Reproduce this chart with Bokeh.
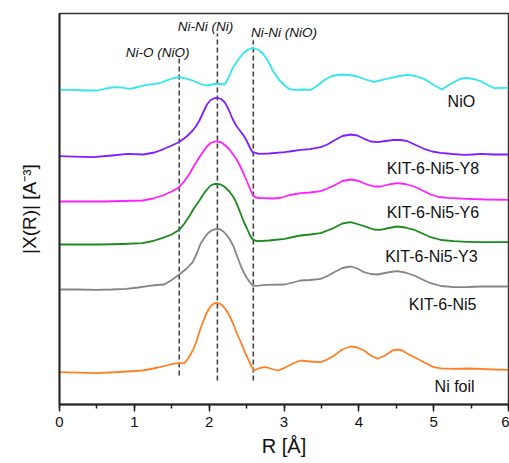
from bokeh.plotting import figure
from bokeh.models import Range1d, SingleIntervalTicker, FixedTicker, Label
from bokeh.embed import file_html
from bokeh.resources import INLINE

# ---------------- data (R in Å, |X(R)| with vertical offsets, arbitrary units) ----------------
nio_R = [0, 0.2, 0.35, 0.51, 0.62, 0.74, 0.84, 0.94, 1.05, 1.16, 1.29, 1.38, 1.45, 1.53, 1.60,
         1.68, 1.78, 1.88, 1.96, 2.03, 2.09, 2.16, 2.21, 2.26, 2.32, 2.39, 2.45, 2.52, 2.58,
         2.65, 2.72, 2.79, 2.85, 2.93, 3.01, 3.07, 3.13, 3.25, 3.36, 3.45, 3.53, 3.64, 3.76,
         3.87, 3.98, 4.09, 4.20, 4.31, 4.43, 4.54, 4.65, 4.76, 4.87, 4.99, 5.11, 5.19, 5.27,
         5.35, 5.43, 5.53, 5.63, 5.72, 5.81, 5.90, 6.0]
nio_y = [3.147, 3.147, 3.14, 3.14, 3.16, 3.173, 3.168, 3.157, 3.175, 3.197, 3.207, 3.225, 3.247,
         3.265, 3.273, 3.262, 3.24, 3.205, 3.19, 3.20, 3.207, 3.205, 3.20, 3.27, 3.373, 3.45,
         3.507, 3.55, 3.567, 3.55, 3.507, 3.43, 3.34, 3.25, 3.19, 3.155, 3.147, 3.15, 3.147,
         3.19, 3.24, 3.285, 3.30, 3.295, 3.28, 3.25, 3.227, 3.245, 3.267, 3.285, 3.297, 3.285,
         3.257, 3.20, 3.15, 3.19, 3.223, 3.255, 3.267, 3.255, 3.233, 3.195, 3.163, 3.167, 3.167]

y8_R = [0, 0.2, 0.45, 0.7, 0.91, 1.12, 1.27, 1.40, 1.50, 1.60, 1.70, 1.78, 1.83, 1.87, 1.92,
        1.97, 2.02, 2.07, 2.11, 2.16, 2.21, 2.26, 2.31, 2.36, 2.41, 2.46, 2.50, 2.55, 2.58,
        2.62, 2.67, 2.80, 3.01, 3.12, 3.22, 3.35, 3.49, 3.58, 3.67, 3.78, 3.89, 3.98, 4.07,
        4.16, 4.25, 4.36, 4.47, 4.56, 4.65, 4.76, 4.87, 4.98, 5.09, 5.25, 5.41, 5.52, 5.63,
        5.80, 6.0]
y8_y = [2.483, 2.478, 2.473, 2.49, 2.507, 2.50, 2.52, 2.557, 2.59, 2.625, 2.68, 2.74, 2.79,
        2.84, 2.92, 3.00, 3.045, 3.063, 3.067, 3.055, 3.02, 2.95, 2.86, 2.79, 2.74, 2.69, 2.64,
        2.56, 2.523, 2.515, 2.507, 2.51, 2.523, 2.535, 2.547, 2.553, 2.573, 2.60, 2.64, 2.685,
        2.70, 2.69, 2.657, 2.63, 2.623, 2.635, 2.647, 2.645, 2.633, 2.595, 2.557, 2.53, 2.517,
        2.505, 2.497, 2.50, 2.507, 2.50, 2.50]

y6_R = [0, 0.3, 0.58, 0.85, 1.11, 1.25, 1.38, 1.50, 1.60, 1.67, 1.74, 1.80, 1.87, 1.92, 1.97,
        2.02, 2.07, 2.11, 2.16, 2.21, 2.27, 2.32, 2.36, 2.41, 2.46, 2.50, 2.55, 2.58, 2.61,
        2.66, 2.72, 2.85, 2.95, 3.08, 3.22, 3.35, 3.49, 3.58, 3.67, 3.78, 3.89, 4.00, 4.11,
        4.20, 4.29, 4.40, 4.51, 4.62, 4.74, 4.85, 4.96, 5.07, 5.18, 5.45, 5.70, 6.0]
y6_y = [2.03, 2.03, 2.03, 2.035, 2.04, 2.06, 2.09, 2.13, 2.173, 2.235, 2.31, 2.39, 2.473, 2.53,
        2.58, 2.615, 2.628, 2.63, 2.622, 2.595, 2.55, 2.50, 2.46, 2.39, 2.31, 2.24, 2.15, 2.10,
        2.073, 2.065, 2.063, 2.06, 2.065, 2.095, 2.113, 2.12, 2.133, 2.16, 2.19, 2.235, 2.25,
        2.235, 2.20, 2.18, 2.18, 2.20, 2.213, 2.205, 2.18, 2.14, 2.10, 2.075, 2.067, 2.057,
        2.05, 2.047]

y3_R = [0, 0.3, 0.53, 0.85, 1.11, 1.25, 1.38, 1.50, 1.60, 1.67, 1.74, 1.80, 1.87, 1.92, 1.97,
        2.02, 2.07, 2.11, 2.16, 2.21, 2.27, 2.32, 2.36, 2.41, 2.46, 2.50, 2.54, 2.57, 2.61,
        2.65, 2.80, 3.01, 3.12, 3.22, 3.35, 3.49, 3.58, 3.67, 3.78, 3.89, 4.00, 4.11, 4.20,
        4.29, 4.40, 4.51, 4.62, 4.74, 4.85, 4.96, 5.10, 5.27, 5.45, 5.63, 6.0]
y3_y = [1.60, 1.60, 1.60, 1.605, 1.613, 1.635, 1.667, 1.70, 1.747, 1.81, 1.89, 1.965, 2.04,
        2.10, 2.15, 2.19, 2.205, 2.207, 2.198, 2.175, 2.13, 2.08, 2.023, 1.93, 1.83, 1.77, 1.70,
        1.66, 1.64, 1.633, 1.64, 1.657, 1.675, 1.69, 1.70, 1.713, 1.74, 1.767, 1.81, 1.823,
        1.80, 1.773, 1.75, 1.747, 1.765, 1.78, 1.77, 1.747, 1.71, 1.673, 1.645, 1.633, 1.627,
        1.623, 1.623]

ni5_R = [0, 0.25, 0.49, 0.70, 0.89, 1.05, 1.20, 1.30, 1.40, 1.50, 1.60, 1.70, 1.78, 1.84,
         1.885, 1.93, 1.98, 2.03, 2.07, 2.11, 2.15, 2.19, 2.24, 2.28, 2.33, 2.38, 2.43, 2.47,
         2.50, 2.54, 2.58, 2.63, 2.76, 3.01, 3.12, 3.22, 3.35, 3.49, 3.58, 3.67, 3.78, 3.89,
         3.98, 4.07, 4.16, 4.25, 4.38, 4.51, 4.62, 4.74, 4.85, 4.96, 5.10, 5.27, 5.45, 5.63, 6.0]
ni5_y = [1.15, 1.15, 1.147, 1.15, 1.157, 1.17, 1.187, 1.195, 1.20, 1.245, 1.30, 1.36, 1.423,
         1.52, 1.607, 1.66, 1.71, 1.74, 1.752, 1.755, 1.75, 1.73, 1.69, 1.645, 1.573, 1.47,
         1.373, 1.31, 1.27, 1.225, 1.19, 1.187, 1.197, 1.20, 1.22, 1.24, 1.245, 1.257, 1.285,
         1.323, 1.365, 1.38, 1.36, 1.323, 1.305, 1.30, 1.32, 1.333, 1.32, 1.29, 1.25, 1.213,
         1.185, 1.173, 1.175, 1.18, 1.18]

foil_R = [0, 0.25, 0.49, 0.80, 1.11, 1.22, 1.34, 1.43, 1.51, 1.60, 1.67, 1.72, 1.78, 1.83,
          1.87, 1.92, 1.96, 2.00, 2.03, 2.07, 2.11, 2.15, 2.19, 2.23, 2.27, 2.32, 2.36, 2.41,
          2.45, 2.49, 2.53, 2.57, 2.60, 2.64, 2.70, 2.76, 2.84, 2.92, 3.01, 3.12, 3.22, 3.35,
          3.49, 3.58, 3.67, 3.78, 3.89, 3.98, 4.07, 4.16, 4.25, 4.35, 4.45, 4.52, 4.58, 4.65,
          4.76, 4.87, 5.00, 5.10, 5.27, 5.45, 5.63, 5.80, 6.0]
foil_y = [0.323, 0.318, 0.313, 0.325, 0.34, 0.355, 0.373, 0.39, 0.407, 0.413, 0.415, 0.46, 0.54,
          0.63, 0.73, 0.83, 0.907, 0.96, 0.99, 1.012, 1.017, 1.005, 0.98, 0.94, 0.89, 0.81, 0.73,
          0.645, 0.573, 0.50, 0.44, 0.375, 0.34, 0.355, 0.37, 0.373, 0.355, 0.34, 0.367, 0.41,
          0.44, 0.43, 0.423, 0.45, 0.49, 0.55, 0.58, 0.57, 0.54, 0.49, 0.457, 0.49, 0.54, 0.55,
          0.54, 0.507, 0.465, 0.423, 0.373, 0.362, 0.357, 0.36, 0.357, 0.35, 0.347]

series_names = ["NiO", "KIT-6-Ni5-Y8", "KIT-6-Ni5-Y6", "KIT-6-Ni5-Y3", "KIT-6-Ni5", "Ni foil"]

# reference bond distances (dashed lines)
ref_names = ["Ni-O (NiO)", "Ni-Ni (Ni)", "Ni-Ni (NiO)"]
ref_R = [1.60, 2.11, 2.59]
ref_top = [3.46, 3.71, 3.64]
ref_bottom = [0.29, 0.24, 0.24]

# ---------------- styling ----------------
FONT = "Liberation Sans"
colors = ["#2EE8EE", "#7F1FFF", "#FF1FFF", "#1C8A1C", "#858585", "#FF8024"]
series = [(nio_R, nio_y), (y8_R, y8_y), (y6_R, y6_y), (y3_R, y3_y), (ni5_R, ni5_y), (foil_R, foil_y)]
label_pos = [(5.37, 3.03), (4.99, 2.36), (4.99, 1.92), (4.97, 1.485), (5.12, 1.00), (5.28, 0.18)]
ref_label_pos = [(1.31, 3.52), (1.95, 3.78), (3.00, 3.72)]

p = figure(width=509, height=463, output_backend="svg", toolbar_location=None,
           x_range=Range1d(0, 6), y_range=Range1d(0, 3.91),
           min_border_left=59, min_border_right=1, min_border_top=13, min_border_bottom=59)
p.background_fill_color = "white"
p.border_fill_color = "white"
p.grid.visible = False
p.outline_line_color = "#333333"
p.outline_line_width = 1.5

# dashed reference lines
for r, t, b in zip(ref_R, ref_top, ref_bottom):
    p.line([r, r], [b, t], line_color="#404040", line_width=1.6, line_dash="5 3")

# curves
for (xs, ys), c in zip(series, colors):
    p.line(xs, ys, line_color=c, line_width=1.8, line_join="round")

# curve labels
for name, (lx, ly) in zip(series_names, label_pos):
    p.add_layout(Label(x=lx, y=ly, text=name, text_align="center", text_baseline="middle",
                       text_font=FONT, text_font_size="16px", text_color="#111111"))

for name, (lx, ly) in zip(ref_names, ref_label_pos):
    p.add_layout(Label(x=lx, y=ly, text=name, text_align="center", text_baseline="middle",
                       text_font=FONT, text_font_size="13.5px", text_font_style="italic",
                       text_color="#111111"))

# x axis
xa = p.xaxis[0]
xa.ticker = SingleIntervalTicker(interval=1, num_minor_ticks=2)
xa.axis_label = "R [Å]"
xa.axis_label_text_font = FONT
xa.axis_label_text_font_size = "20px"
xa.axis_label_text_font_style = "normal"
xa.axis_label_text_color = "#111111"
xa.axis_label_standoff = 5
xa.major_label_text_font = FONT
xa.major_label_text_font_size = "15px"
xa.major_label_text_color = "#111111"
xa.major_label_standoff = 5
xa.major_tick_out = 7
xa.major_tick_in = 0
xa.minor_tick_out = 4
xa.minor_tick_in = 0
xa.axis_line_width = 1.8
xa.axis_line_color = "#222222"
xa.major_tick_line_width = 1.5
xa.minor_tick_line_width = 1.5
xa.major_tick_line_color = "#222222"
xa.minor_tick_line_color = "#222222"

# y axis (no ticks)
ya = p.yaxis[0]
ya.ticker = FixedTicker(ticks=[])
ya.axis_label = "|X(R)| [A⁻³]"
ya.axis_label_text_font = FONT
ya.axis_label_text_font_size = "19px"
ya.axis_label_text_font_style = "normal"
ya.axis_label_text_color = "#111111"
ya.axis_label_standoff = 20
ya.major_label_standoff = 0
ya.major_tick_out = 0
ya.major_tick_in = 0
ya.minor_tick_out = 0
ya.minor_tick_in = 0
ya.axis_line_width = 1.8
ya.axis_line_color = "#222222"

open("out.html", "w").write(file_html(p, INLINE))
